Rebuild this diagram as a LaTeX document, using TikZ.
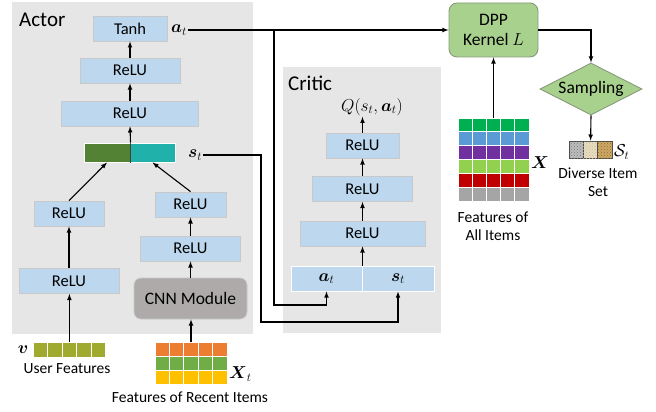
\documentclass[tikz,border=0pt]{standalone}
\usepackage{fontspec}
\setmainfont{Carlito}
\usepackage{amsmath}
\usepackage{amssymb}
\usetikzlibrary{arrows}
\usetikzlibrary{positioning}
\usetikzlibrary{patterns}
\usetikzlibrary{shapes.geometric}
\definecolor{panelgray}{HTML}{E6E6E6}
\definecolor{layerblue}{HTML}{BDD7EE}
\definecolor{layeredge}{HTML}{C9C9C9}
\definecolor{stgreen}{HTML}{548235}
\definecolor{stteal}{HTML}{20B2AA}
\definecolor{cnngray}{HTML}{AEAAAA}
\definecolor{usercol}{HTML}{9FAA2E}
\definecolor{recentA}{HTML}{ED7D31}
\definecolor{recentB}{HTML}{70AD47}
\definecolor{recentC}{HTML}{FFC000}
\definecolor{kerngreen}{HTML}{A9D18E}
\definecolor{kernedge}{HTML}{879A7C}
\definecolor{itemA}{HTML}{BDBDBD}
\definecolor{itemB}{HTML}{E8DCC0}
\definecolor{itemC}{HTML}{CDA866}
\definecolor{grainA}{HTML}{7A7A7A}
\definecolor{grainB}{HTML}{CDBE9A}
\definecolor{grainC}{HTML}{8E6A30}
\definecolor{featA}{HTML}{00B050}
\definecolor{featB}{HTML}{5B9BD5}
\definecolor{featC}{HTML}{7030A0}
\definecolor{featD}{HTML}{92D050}
\definecolor{featE}{HTML}{C00000}
\definecolor{featF}{HTML}{A5A5A5}
\tikzset{layer/.style = {draw = layeredge, fill = layerblue, line width = 0.8, inner sep = 0, minimum height = 25, font = \fontsize{16.5}{18}\selectfont}}
\tikzset{bar/.style = {draw = white, line width = 1, inner sep = 0, minimum height = 19}}
\tikzset{cell/.style = {draw = white, line width = 0.8, inner sep = 0, minimum width = 14.4, minimum height = 14}}
\tikzset{inbox/.style = {draw = white, fill = layerblue, line width = 1, inner sep = 0, minimum height = 25, font = \fontsize{17}{19}\selectfont}}
\tikzset{lbl/.style = {inner sep = 0, font = \fontsize{15.5}{18.5}\selectfont}}
\tikzset{sym/.style = {inner sep = 1, font = \fontsize{17}{19}\selectfont}}
\tikzset{title/.style = {inner sep = 0, font = \fontsize{21}{23}\selectfont}}
\tikzset{conn/.style = {-latex, line width = 1.1}}

\begin{document}
\begin{tikzpicture}[x = 1pt, y = -1pt]
    \useasboundingbox (0, 0) rectangle (656, 412);
    \fill [panelgray] (12, 2) rectangle (253, 334);
    \fill [panelgray] (283, 67) rectangle (441, 333);
    \node [title, anchor = west] (actorT) at (19, 20) {Actor};
    \node [title, anchor = west] (criticT) at (288, 83) {Critic};

    % actor
    \node [layer, minimum width = 74] (tanh) at (130, 28.5) {Tanh};
    \node [layer, minimum width = 100] (aRelu1) at (130, 70.5) {ReLU};
    \node [layer, minimum width = 137] (aRelu2) at (130, 113.5) {ReLU};
    \node [bar, fill = stgreen, minimum width = 46] (stG) at (107, 152.5) {};
    \node [bar, fill = stteal, minimum width = 45] (stT) at (152.5, 152.5) {};
    \draw [line width = 0.7, black!75] (stG.north east) -- (stG.south east);
    \node [sym, anchor = west] (atLbl) at (170, 30) {$\boldsymbol{a}_t$};
    \node [sym, anchor = west] (stLbl) at (187, 155) {$\boldsymbol{s}_t$};

    \node [layer, minimum width = 70] (uRelu2) at (69, 213.5) {ReLU};
    \node [layer, minimum width = 100] (uRelu1) at (69, 281) {ReLU};
    \node [layer, minimum width = 71] (rRelu2) at (190.5, 204.5) {ReLU};
    \node [layer, minimum width = 100] (rRelu1) at (190.5, 248.5) {ReLU};
    \node [draw = layeredge, fill = cnngray, rounded corners = 7, line width = 0.8,
      minimum width = 113, minimum height = 41, font = \fontsize{17.5}{19}\selectfont]
      (cnn) at (190.5, 298.5) {CNN Module};

    \foreach \i in {0, ..., 4}
      \node [cell, fill = usercol, minimum height = 15] (u\i) at (40.6 + 14.4 * \i, 349.5) {};
    \node [sym] (vLbl) at (23, 350) {$\boldsymbol{v}$};
    \node [lbl] (userT) at (67, 369) {User Features};

    \foreach \r/\c in {0/recentA, 1/recentB, 2/recentC}
      \foreach \i in {0, ..., 4}
        \node [cell, fill = \c] (r\r\i) at (162.2 + 14.4 * \i, 349.5 + 14 * \r) {};
    \node [sym, anchor = west] (xtLbl) at (228, 374) {$\boldsymbol{X}_t$};
    \node [lbl] (recentT) at (190, 397) {Features of Recent Items};

    % critic
    \node [sym] (qLbl) at (372, 107) {$Q(s_t, \boldsymbol{a}_t)$};
    \node [layer, minimum width = 73] (cRelu3) at (362.5, 145.5) {ReLU};
    \node [layer, minimum width = 100] (cRelu2) at (362.5, 189) {ReLU};
    \node [layer, minimum width = 125] (cRelu1) at (362.5, 233.5) {ReLU};
    \node [inbox, minimum width = 71] (cAt) at (326.5, 278.5) {$\boldsymbol{a}_t$};
    \node [inbox, minimum width = 72] (cSt) at (398, 278.5) {$\boldsymbol{s}_t$};

    % dpp
    \node [draw = kernedge, fill = kerngreen, rounded corners = 8, line width = 0.9,
      minimum width = 89, minimum height = 54, align = center,
      font = \fontsize{17.5}{20}\selectfont] (dpp) at (493.5, 30) {DPP\\Kernel $L$};
    \node [diamond, aspect = 2, draw = kernedge, fill = kerngreen, line width = 0.9,
      inner sep = 0, minimum width = 102, minimum height = 52,
      font = \fontsize{17.5}{19}\selectfont] (samp) at (591, 89) {Sampling};
    \foreach \i/\c/\g in {0/itemA/grainA, 1/itemB/grainB, 2/itemC/grainC}
      \node [draw = black!70, fill = \c, line width = 0.8, inner sep = 0,
        minimum width = 14.4, minimum height = 17,
        postaction = {pattern = crosshatch dots, pattern color = \g}]
        (s\i) at (576.2 + 14.4 * \i, 149.5) {};
    \node [sym, anchor = west] (sLbl) at (613, 152) {$\mathcal{S}_t$};
    \node [lbl, align = center] (diverseT) at (598, 182) {Diverse Item\\Set};

    \foreach \r/\c in {0/featA, 1/featB, 2/featC, 3/featD, 4/featE, 5/featF}
      \foreach \i in {0, ..., 4}
        \node [cell, fill = \c, minimum width = 14.2, minimum height = 13.8]
          (f\r\i) at (465.1 + 14.2 * \i, 124.9 + 13.83 * \r) {};
    \node [sym, anchor = west] (xLbl) at (530, 163) {$\boldsymbol{X}$};
    \node [lbl, align = center] (allT) at (493, 226) {Features of\\All Items};

    % connectors
    \draw [conn] (aRelu1) -- (tanh);
    \draw [conn] (aRelu2) -- (aRelu1);
    \draw [conn] (stG.north east) -- (aRelu2.south);
    \draw [conn] (uRelu2.north) -- (stG.south);
    \draw [conn] (rRelu2.north) -- (stT.south);
    \draw [conn] (uRelu1) -- (uRelu2);
    \draw [conn] (u2.north) -- (u2.north |- uRelu1.south);
    \draw [conn] (cnn) -- (rRelu1);
    \draw [conn] (rRelu1) -- (rRelu2);
    \draw [conn] (r02.north) -- (r02.north |- cnn.south);

    \draw [conn] (cAt.north east) -- (cRelu1.south);
    \draw [conn] (cRelu1) -- (cRelu2);
    \draw [conn] (cRelu2) -- (cRelu3);
    \draw [conn] (cRelu3.north) -- (cRelu3.north |- qLbl.south);

    \coordinate (atSplit) at (274, 30);
    \coordinate (stTurn) at (261, 322);
    \draw [conn] (atLbl) -- (dpp);
    \draw [conn] (atSplit) -- ++(0, 275) -| (cAt.south);
    \draw [conn] (stLbl.east) -| (stTurn) -| (cSt.south);

    \draw [conn] (dpp.east) -| (samp.north);
    \draw [conn] (samp.south) -- (s1.north);
    \draw [conn] (f02.north) -- (dpp.south);
\end{tikzpicture}
\end{document}
